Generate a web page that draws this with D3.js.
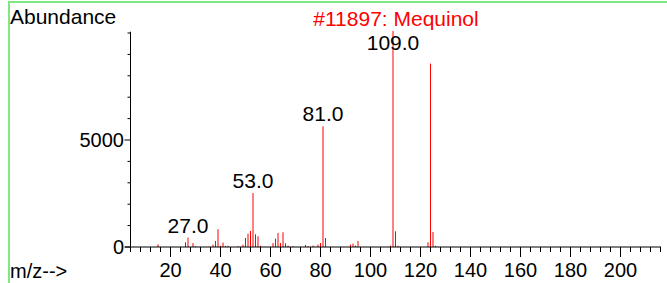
<!DOCTYPE html>
<html lang="en">
<head>
    <meta charset="UTF-8">
    <title>Mequinol mass spectrum</title>
    <script src="https://d3js.org/d3.v7.min.js"></script>
    <style>
        body {
            margin: 0;
            background: #ffffff;
            overflow: hidden;
        }
        text {
            font-family: "Liberation Sans", Arial, sans-serif;
        }
    </style>
</head>
<body>
    <div id="chart"></div>
    <script>
        // peaks: m/z and abundance
        const mz = [15, 26, 27, 29, 30, 37, 38, 39, 40, 41, 42, 43, 47, 49, 50, 51, 52, 53, 54, 55, 56,
            61, 62, 63, 64, 65, 66, 67, 69, 74, 75, 77, 79, 80, 81, 82, 92, 93, 94, 95,
            108, 109, 110, 111, 123, 124, 125, 126];
        const abundance = [125, 220, 440, 185, 40, 110, 280, 830, 55, 205, 45, 55, 35, 110, 420, 625, 750, 2520, 595, 500, 55,
            185, 390, 655, 185, 690, 175, 65, 45, 95, 35, 65, 110, 185, 5640, 420, 110, 160, 65, 280,
            65, 10100, 735, 55, 220, 8570, 700, 55];
        // peaks that carry a label
        const labelled = [27, 53, 81, 109];
        const xTickLabels = [20, 40, 60, 80, 100, 120, 140, 160, 180, 200];
        const yTickLabels = [0, 5000];

        const width = 667, height = 283;

        const svg = d3.select("#chart").append("svg")
            .attr("width", width)
            .attr("height", height);

        // light green frame round the plot
        svg.append("path")
            .attr("d", `M9,${height + 5} V2 H${width + 5}`)
            .attr("fill", "none")
            .attr("stroke", "#80e880")
            .attr("stroke-width", 2);

        const x = d3.scaleLinear().domain([4, 216]).range([130.5, 660.5]);
        const y = d3.scaleLinear().domain([0, 10000]).range([247, 33]);
        const yMax = 10060;

        // peaks
        const peaks = mz.map((m, i) => ({ mz: m, v: abundance[i] }));
        svg.append("g")
            .selectAll("line")
            .data(peaks)
            .join("line")
            .attr("x1", d => x(d.mz))
            .attr("x2", d => x(d.mz))
            .attr("y1", y(0))
            .attr("y2", d => y(d.v))
            .attr("stroke", "#ff0000")
            .attr("stroke-width", 1);

        // x axis: minor tick every 4, long tick every 20
        const gx = svg.append("g");
        gx.append("line")
            .attr("x1", 125).attr("x2", 661)
            .attr("y1", y(0)).attr("y2", y(0))
            .attr("stroke", "#000");
        gx.selectAll("line.tick")
            .data(d3.range(4, 217, 4))
            .join("line")
            .attr("class", "tick")
            .attr("x1", d => x(d)).attr("x2", d => x(d))
            .attr("y1", y(0))
            .attr("y2", d => y(0) + (d % 20 === 0 ? 10 : 5))
            .attr("stroke", "#000");
        gx.selectAll("text")
            .data(xTickLabels)
            .join("text")
            .attr("x", d => x(d))
            .attr("y", 277)
            .attr("text-anchor", "middle")
            .attr("font-size", 20)
            .text(d => d);

        // y axis
        const gy = svg.append("g");
        gy.append("line")
            .attr("x1", 130.5).attr("x2", 130.5)
            .attr("y1", y(0)).attr("y2", y(yMax))
            .attr("stroke", "#000");
        gy.selectAll("line.tick")
            .data(d3.range(0, 10001, 1000))
            .join("line")
            .attr("class", "tick")
            .attr("x1", d => 130.5 - (d % 5000 === 0 && d < 10000 ? 6 : 3))
            .attr("x2", 130.5)
            .attr("y1", d => y(d)).attr("y2", d => y(d))
            .attr("stroke", "#000");
        gy.selectAll("text")
            .data(yTickLabels)
            .join("text")
            .attr("x", 124)
            .attr("y", d => y(d) + 7)
            .attr("text-anchor", "end")
            .attr("font-size", 20)
            .text(d => d);

        // peak labels
        svg.append("g")
            .selectAll("text")
            .data(peaks.filter(d => labelled.includes(d.mz)))
            .join("text")
            .attr("x", d => x(d.mz))
            .attr("y", d => Math.max(y(d.v) - 5, 50))
            .attr("text-anchor", "middle")
            .attr("font-size", 21)
            .text(d => d.mz.toFixed(1));

        svg.append("text")
            .attr("x", 10).attr("y", 24)
            .attr("font-size", 21)
            .text("Abundance");

        svg.append("text")
            .attr("x", 396).attr("y", 26)
            .attr("text-anchor", "middle")
            .attr("font-size", 21)
            .attr("fill", "#ff0000")
            .text("#11897: Mequinol");

        svg.append("text")
            .attr("x", 10).attr("y", 278)
            .attr("font-size", 20)
            .text("m/z-->");
    </script>
</body>
</html>
